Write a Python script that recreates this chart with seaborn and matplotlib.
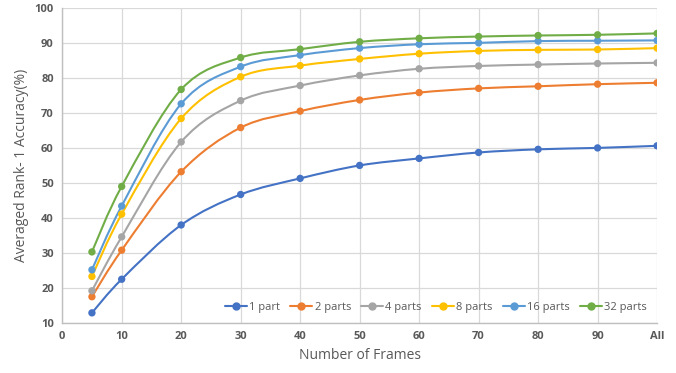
import numpy as np
import pandas as pd
import matplotlib
matplotlib.use("Agg")
import matplotlib.pyplot as plt
import seaborn as sns
from matplotlib.path import Path
from matplotlib.patches import PathPatch
from matplotlib.lines import Line2D

frames = [5, 10, 20, 30, 40, 50, 60, 70, 80, 90, 100]
tick_pos = [0, 10, 20, 30, 40, 50, 60, 70, 80, 90, 100]
tick_labels = ["0", "10", "20", "30", "40", "50", "60", "70", "80", "90", "All"]

part_1 = [12.9, 22.5, 38.0, 46.7, 51.3, 55.0, 57.0, 58.7, 59.6, 60.0, 60.6]
part_2 = [17.5, 30.8, 53.2, 65.8, 70.5, 73.7, 75.8, 77.0, 77.6, 78.2, 78.6]
part_4 = [19.2, 34.6, 61.7, 73.5, 77.8, 80.7, 82.6, 83.4, 83.8, 84.1, 84.3]
part_8 = [23.3, 41.1, 68.4, 80.3, 83.5, 85.4, 86.9, 87.7, 88.0, 88.1, 88.5]
part_16 = [25.2, 43.4, 72.6, 83.2, 86.5, 88.5, 89.6, 90.0, 90.5, 90.6, 90.7]
part_32 = [30.3, 49.0, 76.7, 85.8, 88.2, 90.3, 91.3, 91.8, 92.1, 92.3, 92.7]

series_names = ["1 part", "2 parts", "4 parts", "8 parts", "16 parts", "32 parts"]
series_vals = [part_1, part_2, part_4, part_8, part_16, part_32]
cores = ["#4472C4", "#ED7D31", "#A5A5A5", "#FFC000", "#5B9BD5", "#70AD47"]

df = pd.DataFrame({
    "frames": frames * len(series_names),
    "acc": sum(series_vals, []),
    "serie": sum([[n] * len(frames) for n in series_names], []),
})

sns.set_style("whitegrid")
plt.rcParams["font.family"] = ["Open Sans", "DejaVu Sans"]

fig = plt.figure(figsize=(6.76, 3.73), dpi=100)
ax = fig.add_axes([0.092, 0.134, 0.88, 0.845])

sns.scatterplot(data=df, x="frames", y="acc", hue="serie", palette=cores,
                s=28, linewidth=0, zorder=3, legend=False, ax=ax)


def curva_suave(x, y):
    # bezier segments like excel smoothed lines
    pts = np.column_stack([x, y]).astype(float)
    verts = [pts[0]]
    codes = [Path.MOVETO]
    n = len(pts)
    for i in range(n - 1):
        p0 = pts[i - 1] if i > 0 else pts[i]
        p1 = pts[i]
        p2 = pts[i + 1]
        p3 = pts[i + 2] if i + 2 < n else pts[i + 1]
        c1 = p1 + (p2 - p0) / 6.0
        c2 = p2 - (p3 - p1) / 6.0
        verts += [c1, c2, p2]
        codes += [Path.CURVE4] * 3
    return Path(verts, codes)


for vals, cor in zip(series_vals, cores):
    ax.add_patch(PathPatch(curva_suave(frames, vals), facecolor="none",
                           edgecolor=cor, lw=1.5, zorder=2))

ax.set_xlim(0, 100)
ax.set_ylim(10, 100)
ax.set_xticks(tick_pos)
ax.set_xticklabels(tick_labels)
ax.set_yticks(range(10, 101, 10))
ax.tick_params(axis="both", labelsize=8, colors="#595959", length=0, pad=6)
for lab in ax.get_xticklabels() + ax.get_yticklabels():
    lab.set_fontweight("bold")
ax.grid(True, color="#d9d9d9", lw=0.9)
for s in ["top", "right"]:
    ax.spines[s].set_visible(False)
for s in ["left", "bottom"]:
    ax.spines[s].set_color("#bfbfbf")
    ax.spines[s].set_linewidth(1.0)

ax.set_xlabel("Number of Frames", fontsize=10, color="#595959")
ax.set_ylabel("Averaged Rank- 1 Accuracy(%)", fontsize=10, color="#595959")

handles = [Line2D([0], [0], color=c, lw=1.5, marker="o", markersize=5) for c in cores]
ax.legend(handles, series_names, loc="lower right", ncol=6, frameon=False,
          fontsize=8, handlelength=2.0, handletextpad=0.2, columnspacing=0.9,
          bbox_to_anchor=(1.0, 0.0), labelcolor="#595959")

fig.savefig("out.png", dpi=100)
